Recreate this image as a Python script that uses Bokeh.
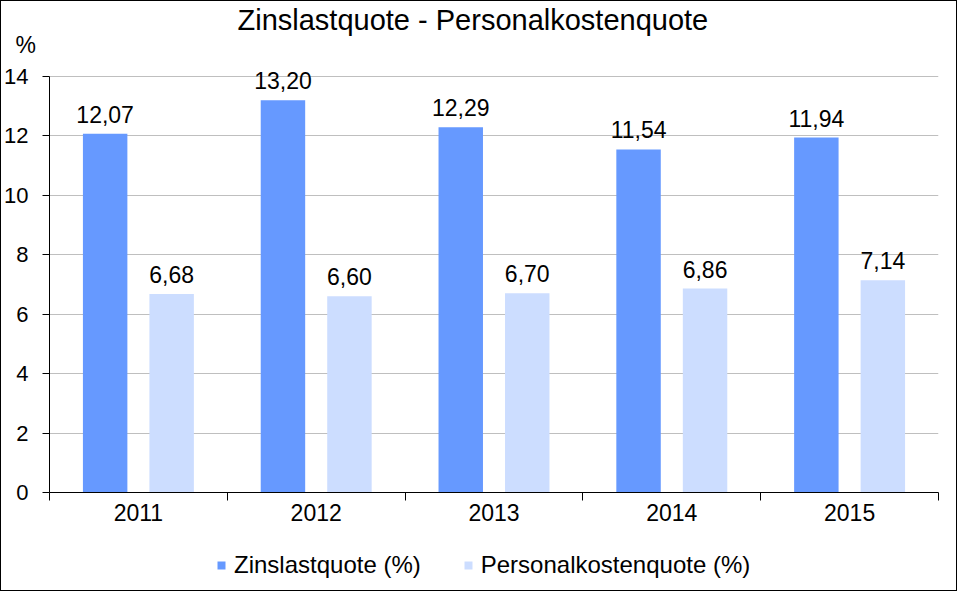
from bokeh.plotting import figure
from bokeh.layouts import column
from bokeh.models import (Range1d, FixedTicker, Title, Legend, LegendItem,
                          ColumnDataSource, LabelSet)
from bokeh.core.properties import value
from bokeh.embed import file_html
from bokeh.resources import INLINE

years = ["2011", "2012", "2013", "2014", "2015"]
zinslast = [12.07, 13.20, 12.29, 11.54, 11.94]
personal = [6.68, 6.60, 6.70, 6.86, 7.14]
y_ticks = [0, 2, 4, 6, 8, 10, 12, 14]
title_text = "Zinslastquote - Personalkostenquote"
unit_text = "%"
series_names = ["Zinslastquote (%)", "Personalkostenquote (%)"]

FONT = "Liberation Sans"
DARK = "#6699FF"
LIGHT = "#CCDDFF"
W = 955

centers = [i + 0.5 for i in range(len(years))]
off = 0.187
bw = 0.25


def fmt(v):
    return f"{v:.2f}".replace(".", ",")


src_z = ColumnDataSource(dict(x=[c - off for c in centers], top=zinslast,
                              lbl=[fmt(v) for v in zinslast]))
src_p = ColumnDataSource(dict(x=[c + off for c in centers], top=personal,
                              lbl=[fmt(v) for v in personal]))

# ---- main chart ----
p = figure(width=W, height=540, output_backend="svg", toolbar_location=None,
           x_range=Range1d(0, 5), y_range=Range1d(0, 14.5), title=None,
           min_border_left=48, min_border_right=18, min_border_top=60,
           min_border_bottom=49)
p.outline_line_color = None
p.background_fill_color = "white"
p.border_fill_color = "white"

p.vbar(x="x", top="top", width=bw, source=src_z, fill_color=DARK, line_color=None)
p.vbar(x="x", top="top", width=bw, source=src_p, fill_color=LIGHT, line_color=None)

for src in (src_z, src_p):
    p.add_layout(LabelSet(x="x", y="top", text="lbl", source=src, text_align="center",
                          text_baseline="alphabetic", y_offset=11,
                          text_font=value(FONT), text_font_size=value("23px"),
                          text_color="black"))

p.yaxis.ticker = FixedTicker(ticks=y_ticks)
p.yaxis.bounds = (0, 14)
p.yaxis.major_tick_out = 7
p.yaxis.major_tick_in = 0
p.yaxis.minor_tick_line_color = None
p.yaxis.axis_line_color = "black"
p.yaxis.major_tick_line_color = "black"
p.yaxis.major_label_text_font = FONT
p.yaxis.major_label_text_font_size = "22px"
p.yaxis.major_label_text_color = "black"
p.yaxis.major_label_standoff = 14

p.xaxis.ticker = FixedTicker(ticks=centers, minor_ticks=[0, 1, 2, 3, 4, 5])
p.xaxis.major_label_overrides = {c: y for c, y in zip(centers, years)}
p.xaxis.major_tick_line_color = None
p.xaxis.major_tick_out = 0
p.xaxis.major_tick_in = 0
p.xaxis.minor_tick_out = 8
p.xaxis.minor_tick_in = 0
p.xaxis.minor_tick_line_color = "black"
p.xaxis.axis_line_color = "black"
p.xaxis.major_label_text_font = FONT
p.xaxis.major_label_text_font_size = "23px"
p.xaxis.major_label_text_color = "black"
p.xaxis.major_label_standoff = 3

p.xgrid.grid_line_color = None
p.ygrid.grid_line_color = "#BFBFBF"
p.ygrid.grid_line_width = 1

# unit label (nearest the frame) and main title (outermost)
p.add_layout(Title(text=unit_text, align="left", offset=-34, standoff=8,
                   text_font=FONT, text_font_size="23px", text_font_style="normal",
                   text_color="black"), "above")
p.add_layout(Title(text=title_text, align="left", offset=188, standoff=-21,
                   text_font=FONT, text_font_size="29px", text_font_style="normal",
                   text_color="black"), "above")

# ---- bottom strip: legend ----
bot = figure(width=W, height=49, output_backend="svg", toolbar_location=None,
             x_range=Range1d(0, 5), y_range=Range1d(0, 14.5),
             x_axis_location=None, y_axis_location=None,
             min_border_left=48, min_border_right=18, min_border_top=0,
             min_border_bottom=0)
bot.grid.visible = False
bot.outline_line_color = None
bot.background_fill_color = "white"
bot.border_fill_color = "white"
k1 = bot.vbar(x="x", top="top", width=bw, source=src_z, fill_color=DARK,
              line_color=None, visible=False)
k2 = bot.vbar(x="x", top="top", width=bw, source=src_p, fill_color=LIGHT,
              line_color=None, visible=False)
legend = Legend(items=[LegendItem(label=series_names[0], renderers=[k1]),
                       LegendItem(label=series_names[1], renderers=[k2])],
                orientation="horizontal", location=(167, 11),
                glyph_width=10, glyph_height=10, label_standoff=8, spacing=42,
                padding=0, margin=0, border_line_color=None,
                background_fill_alpha=0, inactive_fill_alpha=0,
                label_text_font=FONT, label_text_font_size="24px",
                label_text_color="black")
bot.add_layout(legend, "center")

layout = column(p, bot, spacing=0)
layout.styles = {"border": "1px solid black"}

open("out.html", "w").write(file_html(layout, INLINE))
